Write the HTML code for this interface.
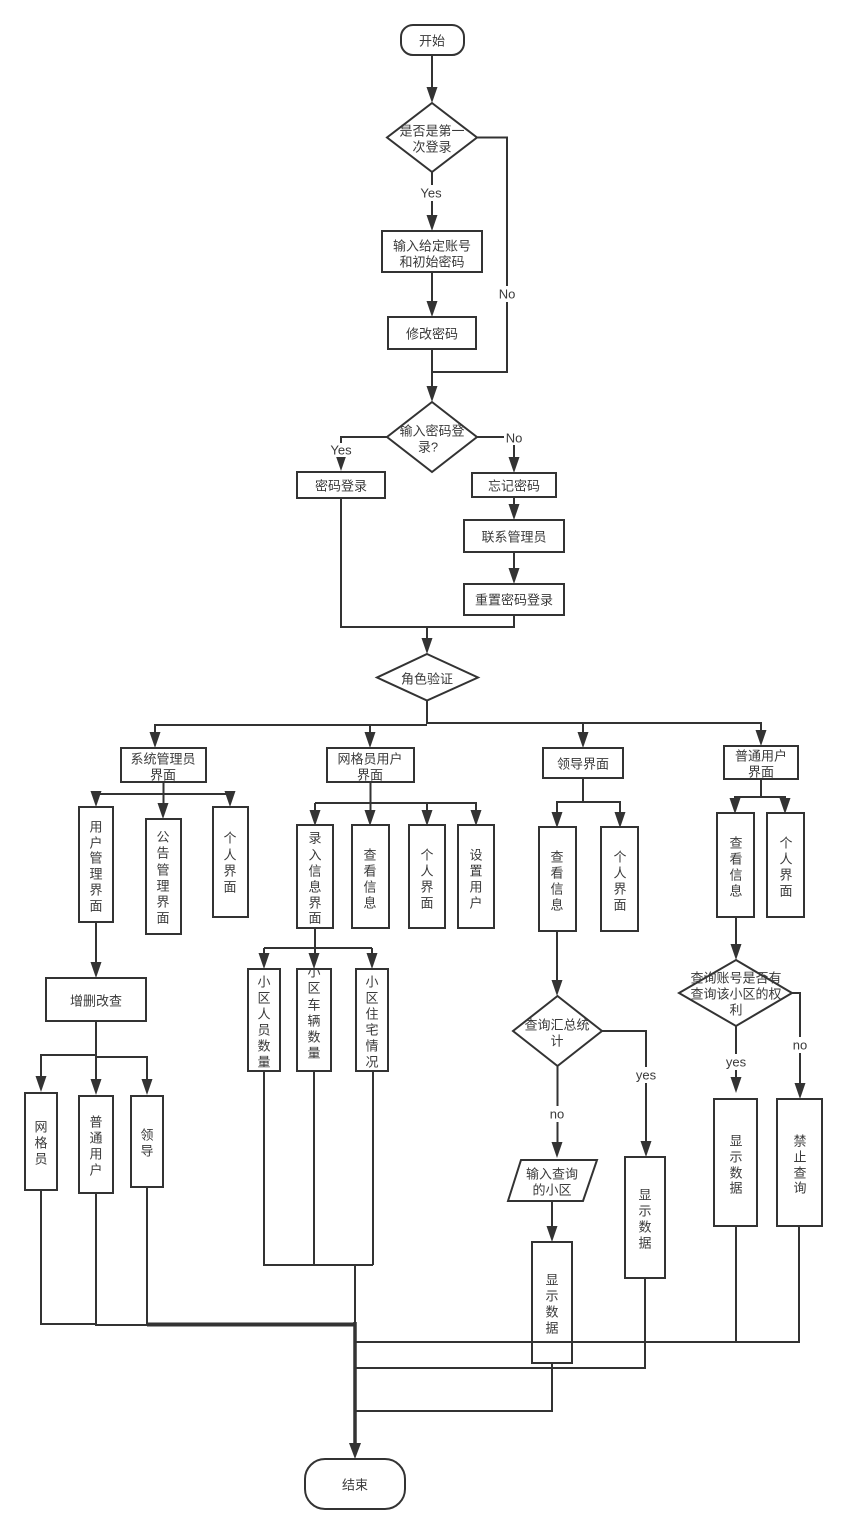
<!DOCTYPE html>
<html><head><meta charset="utf-8">
<style>
html,body{margin:0;padding:0;background:#fff;width:846px;height:1534px;overflow:hidden}
svg{display:block}
text{font-family:"Liberation Sans","Noto Sans CJK SC",sans-serif;font-size:13px;fill:#3a3a3a;text-anchor:middle;dominant-baseline:central}
.s{fill:#fff;stroke:#333;stroke-width:2}
.l{fill:none;stroke:#333;stroke-width:2}
.a{fill:#333;stroke:none}
</style></head><body>
<svg width="846" height="1534" viewBox="0 0 846 1534" xmlns="http://www.w3.org/2000/svg">
<!-- shapes -->
<rect class="s" x="401" y="25" width="63" height="30" rx="12"/>
<polygon class="s" points="432,103 477,137.5 432,172 387,137.5"/>
<rect class="s" x="382" y="231" width="100" height="41"/>
<rect class="s" x="388" y="317" width="88" height="32"/>
<polygon class="s" points="432,402 477,437 432,472 387,437"/>
<rect class="s" x="297" y="472" width="88" height="26"/>
<rect class="s" x="472" y="473" width="84" height="24"/>
<rect class="s" x="464" y="520" width="100" height="32"/>
<rect class="s" x="464" y="584" width="100" height="31"/>
<polygon class="s" points="427,654 478,677.5 427,700.5 377,677.5"/>
<rect class="s" x="121" y="748" width="85" height="34"/>
<rect class="s" x="327" y="748" width="87" height="34"/>
<rect class="s" x="543" y="748" width="80" height="30"/>
<rect class="s" x="724" y="746" width="74" height="33"/>
<rect class="s" x="79" y="807" width="34" height="115"/>
<rect class="s" x="146" y="819" width="35" height="115"/>
<rect class="s" x="213" y="807" width="35" height="110"/>
<rect class="s" x="46" y="978" width="100" height="43"/>
<rect class="s" x="25" y="1093" width="32" height="97"/>
<rect class="s" x="79" y="1096" width="34" height="97"/>
<rect class="s" x="131" y="1096" width="32" height="91"/>
<rect class="s" x="297" y="825" width="36" height="103"/>
<rect class="s" x="352" y="825" width="37" height="103"/>
<rect class="s" x="409" y="825" width="36" height="103"/>
<rect class="s" x="458" y="825" width="36" height="103"/>
<rect class="s" x="248" y="969" width="32" height="102"/>
<rect class="s" x="297" y="969" width="34" height="102"/>
<rect class="s" x="356" y="969" width="32" height="102"/>
<rect class="s" x="539" y="827" width="37" height="104"/>
<rect class="s" x="601" y="827" width="37" height="104"/>
<rect class="s" x="717" y="813" width="37" height="104"/>
<rect class="s" x="767" y="813" width="37" height="104"/>
<polygon class="s" points="557.5,996 602,1031 557.5,1066 513,1031"/>
<polygon class="s" points="736,960 792,993 736,1026 679,993"/>
<rect class="s" x="625" y="1157" width="40" height="121"/>
<polygon class="s" points="521,1160 597,1160 583,1201 508,1201"/>
<rect class="s" x="532" y="1242" width="40" height="121"/>
<rect class="s" x="714" y="1099" width="43" height="127"/>
<rect class="s" x="777" y="1099" width="45" height="127"/>
<rect class="s" x="305" y="1459" width="100" height="50" rx="20"/>
<!-- connectors -->
<path class="l" d="M432 55V90M432 172V216M477 137.5H507V372H432M432 272V302M432 349V388"/>
<path class="l" d="M387 437H341V458M477 437H514V460M514 497V506M514 552V570M341 498V627H514V615M427 627V640M427 700V724"/>
<path class="l" d="M155 734V725H427M370 734V725M427 723H761V732M583 723V734"/>
<path class="l" d="M163.500 782V805M96 794H230M96 794V795M230 794V795M96 922V965"/>
<path class="l" d="M96 1021V1082M96 1055H41V1078M96 1057H147V1082"/>
<path class="l" d="M41 1190V1324H96M96 1193V1325H147M147 1187V1324"/>
<path d="M147 1324.500H355" fill="none" stroke="#333" stroke-width="4"/>
<path class="l" d="M370.500 782V812M315 803H477M315 803V812M427 803V812M476 803V812"/>
<path class="l" d="M315 928V955M264 948H372M264 948V955M372 948V955"/>
<path class="l" d="M264 1071V1265H373M314 1071V1265M373 1071V1265M355 1265V1324"/>
<path d="M355 1322V1445" fill="none" stroke="#333" stroke-width="3.500"/>
<path class="l" d="M583 778V802M557 814V802H620V814M557 931V982"/>
<path class="l" d="M761 779V797M735 800V797H785V800M736 917V947"/>
<path class="l" d="M602 1031H646V1144M557.500 1066V1145M552 1201V1228"/>
<path class="l" d="M792 993H800V1085M736 1026V1080"/>
<path class="l" d="M552 1363V1411H356M645 1278V1368H356M736 1226V1342H356M799 1226V1342H736"/>
<!-- arrowheads -->
<path class="a" d="M426.500 87h11l-5.500 16zM426.500 215h11l-5.500 16zM426.500 301h11l-5.500 16zM426.500 386h11l-5.500 16z"/>
<path class="a" d="M335.500 455h11l-5.500 16zM508.500 457h11l-5.500 16zM508.500 504h11l-5.500 16zM508.500 568h11l-5.500 16zM421.500 638h11l-5.500 16z"/>
<path class="a" d="M149.500 732h11l-5.500 16zM364.500 732h11l-5.500 16zM577.500 732h11l-5.500 16zM755.500 730h11l-5.500 16z"/>
<path class="a" d="M90.500 791h11l-5.500 16zM157.500 803h11l-5.500 16zM224.500 791h11l-5.500 16zM90.500 962h11l-5.500 16z"/>
<path class="a" d="M35.500 1076h11l-5.500 16zM90.500 1079h11l-5.500 16zM141.500 1079h11l-5.500 16z"/>
<path class="a" d="M309.500 810h11l-5.500 16zM364.500 810h11l-5.500 16zM421.500 810h11l-5.500 16zM470.500 810h11l-5.500 16z"/>
<path class="a" d="M258.500 953h11l-5.500 16zM308.500 953h11l-5.500 16zM366.500 953h11l-5.500 16z"/>
<path class="a" d="M551.500 812h11l-5.500 16zM614.500 812h11l-5.500 16zM729.500 798h11l-5.500 16zM779.500 798h11l-5.500 16z"/>
<path class="a" d="M551.500 980h11l-5.500 16zM730.500 944h11l-5.500 16zM640.500 1141h11l-5.500 16zM551.500 1142h11l-5.500 16zM546.500 1226h11l-5.500 16zM730.500 1077h11l-5.500 16zM794.500 1083h11l-5.500 16zM349 1443h12l-6 16z"/>
<!-- edge labels -->
<rect x="419" y="185" width="26" height="16" fill="#fff"/><text x="431" y="193">Yes</text>
<rect x="497" y="286" width="22" height="16" fill="#fff"/><text x="507" y="294">No</text>
<rect x="329" y="443" width="25" height="14" fill="#fff"/><text x="341" y="450">Yes</text>
<rect x="504" y="431" width="20" height="14" fill="#fff"/><text x="514" y="438">No</text>
<rect x="547" y="1106" width="20" height="16" fill="#fff"/><text x="557" y="1114">no</text>
<rect x="635" y="1067" width="22" height="16" fill="#fff"/><text x="646" y="1075">yes</text>
<rect x="725" y="1054" width="22" height="16" fill="#fff"/><text x="736" y="1062">yes</text>
<rect x="790" y="1037" width="20" height="16" fill="#fff"/><text x="800" y="1045">no</text>
<!-- node labels -->
<text x="432" y="41">开始</text>
<text x="432" y="131">是否是第一</text><text x="432" y="147">次登录</text>
<text x="432" y="246">输入给定账号</text><text x="432" y="262">和初始密码</text>
<text x="432" y="334">修改密码</text>
<text x="432" y="431">输入密码登</text><text x="428" y="447">录?</text>
<text x="341" y="486">密码登录</text>
<text x="514" y="486">忘记密码</text>
<text x="514" y="537">联系管理员</text>
<text x="514" y="600">重置密码登录</text>
<text x="427" y="679">角色验证</text>
<text x="163" y="759">系统管理员</text><text x="163" y="775">界面</text>
<text x="370" y="759">网格员用户</text><text x="370" y="775">界面</text>
<text x="583" y="764">领导界面</text>
<text x="761" y="756">普通用户</text><text x="761" y="772">界面</text>
<text x="96" y="827">用</text><text x="96" y="843">户</text><text x="96" y="858">管</text><text x="96" y="874">理</text><text x="96" y="890">界</text><text x="96" y="906">面</text>
<text x="163" y="837">公</text><text x="163" y="853">告</text><text x="163" y="870">管</text><text x="163" y="886">理</text><text x="163" y="902">界</text><text x="163" y="918">面</text>
<text x="230" y="838">个</text><text x="230" y="855">人</text><text x="230" y="871">界</text><text x="230" y="887">面</text>
<text x="96" y="1001">增删改查</text>
<text x="41" y="1127">网</text><text x="41" y="1143">格</text><text x="41" y="1159">员</text>
<text x="96" y="1122">普</text><text x="96" y="1138">通</text><text x="96" y="1154">用</text><text x="96" y="1170">户</text>
<text x="147" y="1135">领</text><text x="147" y="1151">导</text>
<text x="315" y="838">录</text><text x="315" y="855">入</text><text x="315" y="871">信</text><text x="315" y="887">息</text><text x="315" y="903">界</text><text x="315" y="918">面</text>
<text x="370" y="855">查</text><text x="370" y="871">看</text><text x="370" y="887">信</text><text x="370" y="903">息</text>
<text x="427" y="855">个</text><text x="427" y="871">人</text><text x="427" y="887">界</text><text x="427" y="903">面</text>
<text x="476" y="855">设</text><text x="476" y="871">置</text><text x="476" y="887">用</text><text x="476" y="903">户</text>
<text x="264" y="982">小</text><text x="264" y="998">区</text><text x="264" y="1014">人</text><text x="264" y="1030">员</text><text x="264" y="1046">数</text><text x="264" y="1062">量</text>
<text x="314" y="972">小</text><text x="314" y="988">区</text><text x="314" y="1005">车</text><text x="314" y="1021">辆</text><text x="314" y="1037">数</text><text x="314" y="1053">量</text>
<text x="372" y="982">小</text><text x="372" y="998">区</text><text x="372" y="1014">住</text><text x="372" y="1030">宅</text><text x="372" y="1046">情</text><text x="372" y="1062">况</text>
<text x="557" y="857">查</text><text x="557" y="873">看</text><text x="557" y="889">信</text><text x="557" y="905">息</text>
<text x="620" y="857">个</text><text x="620" y="873">人</text><text x="620" y="889">界</text><text x="620" y="905">面</text>
<text x="736" y="843">查</text><text x="736" y="859">看</text><text x="736" y="875">信</text><text x="736" y="891">息</text>
<text x="786" y="843">个</text><text x="786" y="859">人</text><text x="786" y="875">界</text><text x="786" y="891">面</text>
<text x="557" y="1025">查询汇总统</text><text x="557" y="1041">计</text>
<text x="736" y="978">查询账号是否有</text><text x="736" y="994">查询该小区的权</text><text x="736" y="1010">利</text>
<text x="552" y="1174">输入查询</text><text x="552" y="1190">的小区</text>
<text x="645" y="1195">显</text><text x="645" y="1211">示</text><text x="645" y="1227">数</text><text x="645" y="1243">据</text>
<text x="552" y="1280">显</text><text x="552" y="1296">示</text><text x="552" y="1312">数</text><text x="552" y="1328">据</text>
<text x="736" y="1141">显</text><text x="736" y="1157">示</text><text x="736" y="1173">数</text><text x="736" y="1188">据</text>
<text x="800" y="1141">禁</text><text x="800" y="1157">止</text><text x="800" y="1173">查</text><text x="800" y="1188">询</text>
<text x="355" y="1485">结束</text>
</svg>
</body></html>
